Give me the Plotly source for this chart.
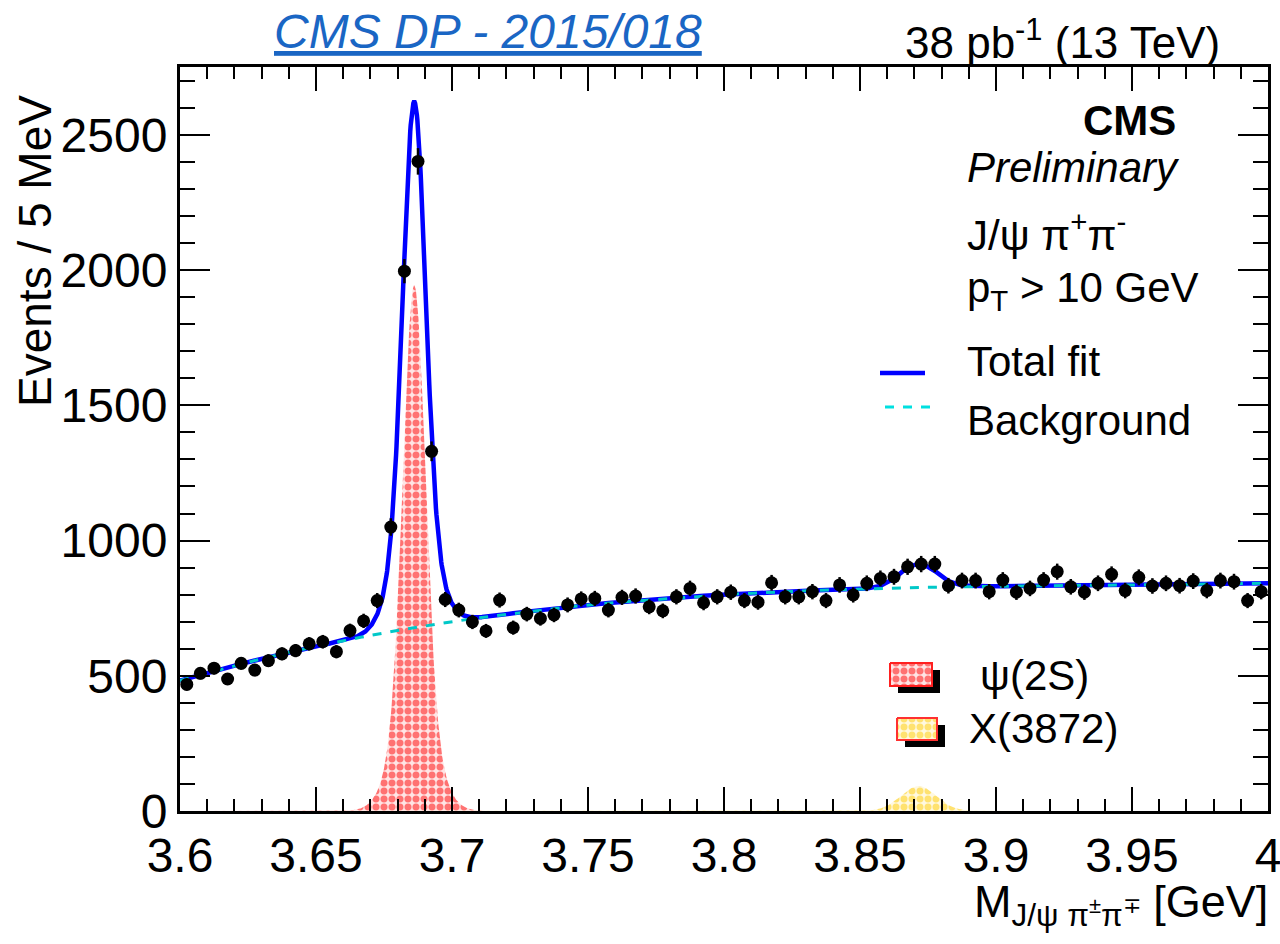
import numpy as np
import plotly.graph_objects as go

# ---- histogram: J/psi pi+ pi- invariant mass, 5 MeV bins ----
M_LO, M_HI, BIN_W = 3.6, 4.0, 0.005
bin_centers = M_LO + BIN_W * (np.arange(80) + 0.5)
events = [
    468, 509, 528, 488, 546, 521, 556, 581, 593, 618,
    626, 589, 667, 703, 778, 1050, 1996, 2402, 1330, 782,
    743, 699, 666, 780, 678, 728, 712, 725, 762, 784,
    786, 743, 790, 795, 755, 740, 792, 823, 770, 792,
    809, 778, 772, 844, 792, 792, 811, 778, 836, 799,
    842, 860, 866, 903, 913, 913, 833, 852, 852, 811,
    854, 809, 823, 854, 885, 829, 809, 842, 875, 815,
    864, 832, 842, 833, 850, 815, 852, 848, 778, 811,
]
events_err = np.sqrt(events)

# ---- fit model parameters ----
bkg_coef = [482.0, 2933.3, -8350.0, 8167.0]          # cubic in (m - 3.6)
psi_mean, psi_height = 3.6861, 1944.0
psi_sigma_core, psi_sigma_tail, psi_core_frac = 0.0040, 0.0072, 0.79
x_mean, x_height, x_sigma = 3.8715, 92.0, 0.0065

# ---- axis labels ----
y_title = "Events / 5 MeV"
x_title = "M<sub>J/ψ π<sup>±</sup>π<sup>∓</sup></sub> [GeV]"


def background(m):
    t = m - M_LO
    return sum(c * t ** k for k, c in enumerate(bkg_coef))


def psi2s(m):
    d = m - psi_mean
    return psi_height * (psi_core_frac * np.exp(-0.5 * (d / psi_sigma_core) ** 2)
                         + (1 - psi_core_frac) * np.exp(-0.5 * (d / psi_sigma_tail) ** 2))


def x3872(m):
    return x_height * np.exp(-0.5 * ((m - x_mean) / x_sigma) ** 2)


m_fine = np.linspace(M_LO, M_HI, 2001)
# total-fit curve: coarse sampling at bin centres, dense around the psi(2S)
m_curve = np.unique(np.concatenate([[M_LO, M_HI], bin_centers,
                                    np.linspace(3.655, 3.72, 400)]))
total_fit = background(m_curve) + psi2s(m_curve) + x3872(m_curve)

FONT = "Liberation Sans, Arial, Helvetica, sans-serif"
W, H = 1280, 944
L, R, T, B = 180, 1268, 67, 811          # plot frame in pixels


def px(x):
    return (x - L) / (R - L)


def py(y):
    return (B - y) / (B - T)


RED_PATTERN = dict(shape=".", fgcolor="#ff0000", bgcolor="#ffe4e4", size=8, solidity=0.6)
YEL_PATTERN = dict(shape=".", fgcolor="#ffcc00", bgcolor="#fff8e0", size=8, solidity=0.6)

fig = go.Figure()

# signal components
fig.add_trace(go.Scatter(
    x=m_fine, y=psi2s(m_fine), mode="lines", fill="tozeroy",
    line=dict(width=0, color="rgba(255,0,0,0)"),
    fillcolor="rgba(255,255,255,0)", fillpattern=RED_PATTERN,
    hoverinfo="skip", showlegend=False))
fig.add_trace(go.Scatter(
    x=m_fine, y=x3872(m_fine), mode="lines", fill="tozeroy",
    line=dict(width=0, color="rgba(255,200,0,0)"),
    fillcolor="rgba(255,255,255,0)", fillpattern=YEL_PATTERN,
    hoverinfo="skip", showlegend=False))

# total fit and background
fig.add_trace(go.Scatter(x=m_curve, y=total_fit, mode="lines",
                         line=dict(color="#0000ff", width=4.5),
                         showlegend=False))
fig.add_trace(go.Scatter(x=m_fine, y=background(m_fine), mode="lines",
                         line=dict(color="#00c8c8", width=3, dash="dash"),
                         showlegend=False))

# data
fig.add_trace(go.Scatter(
    x=bin_centers, y=events, mode="markers",
    marker=dict(color="black", size=13, symbol="circle"),
    error_y=dict(type="data", array=events_err, color="black",
                 thickness=2.5, width=0),
    error_x=dict(type="constant", value=0.0019, color="black",
                 thickness=2.5, width=0),
    showlegend=False))


# legend keys drawn on a pixel-space overlay axis
def box(x0, y0, x1, y1):
    return [x0, x1, x1, x0, x0], [y0, y0, y1, y1, y0]


legend_boxes = [
    (890, 663, 932, 686, RED_PATTERN, "#ff2020"),
    (897, 718, 937, 740, YEL_PATTERN, "#ff3030"),
]
for x0, y0, x1, y1, pattern, edge in legend_boxes:
    sx, sy = box(x0 + 8, y0 + 7, x1 + 8, y1 + 7)
    fig.add_trace(go.Scatter(x=sx, y=sy, xaxis="x2", yaxis="y2", mode="lines",
                             fill="toself", fillcolor="black",
                             line=dict(width=0, color="black"),
                             hoverinfo="skip", showlegend=False))
    bx, by = box(x0, y0, x1, y1)
    fig.add_trace(go.Scatter(x=bx, y=by, xaxis="x2", yaxis="y2", mode="lines",
                             fill="toself", fillcolor="white", fillpattern=pattern,
                             line=dict(width=2, color=edge),
                             hoverinfo="skip", showlegend=False))
fig.add_trace(go.Scatter(x=[880, 925], y=[373, 373], xaxis="x2", yaxis="y2",
                         mode="lines", line=dict(color="#0000ff", width=4.5),
                         hoverinfo="skip", showlegend=False))
fig.add_trace(go.Scatter(x=[885, 932], y=[407, 407], xaxis="x2", yaxis="y2",
                         mode="lines", line=dict(color="#00e0e0", width=3, dash="dash"),
                         hoverinfo="skip", showlegend=False))

axis_common = dict(showline=True, linecolor="black", linewidth=3, mirror="allticks",
                   ticks="inside", tickcolor="black", showgrid=False, zeroline=False,
                   automargin=False, ticklabeloverflow="allow",
                   tickfont=dict(family=FONT, size=48, color="black"))

fig.update_layout(
    width=W, height=H, autosize=False,
    margin=dict(l=L, r=W - R, t=T, b=H - B, autoexpand=False),
    paper_bgcolor="white", plot_bgcolor="white",
    xaxis=dict(range=[M_LO, M_HI], dtick=0.05, tick0=3.6, ticklen=24, tickwidth=2,
               tickformat="~g",
               minor=dict(dtick=0.01, tick0=3.6, ticks="inside", ticklen=12,
                          tickwidth=2, tickcolor="black"),
               **axis_common),
    yaxis=dict(range=[0, 2751], dtick=500, tick0=0, ticklen=30, tickwidth=2,
               minor=dict(dtick=100, ticks="inside", ticklen=15,
                          tickwidth=2, tickcolor="black"),
               **axis_common),
    xaxis2=dict(overlaying="x", range=[L, R], visible=False, automargin=False),
    yaxis2=dict(overlaying="y", range=[B, T], visible=False, automargin=False),
)

txt = dict(family=FONT, color="black")
annotations = [
    dict(x=px(488), y=py(31), text="<i><u>CMS DP - 2015/018</u></i>",
         font=dict(family=FONT, size=48, color="#1a66c4"), xanchor="center"),
    dict(x=px(1222), y=py(40), text="38 pb<sup>-1</sup> (13 TeV)",
         font=dict(size=44, **txt), xanchor="right"),
    dict(x=px(1178), y=py(120), text="<b>CMS</b>", font=dict(size=42, **txt),
         xanchor="right"),
    dict(x=px(965), y=py(167), text="<i>Preliminary</i>", font=dict(size=42, **txt),
         xanchor="left"),
    dict(x=px(965), y=py(232), text="J/ψ π<sup>+</sup>π<sup>-</sup>",
         font=dict(size=42, **txt), xanchor="left"),
    dict(x=px(965), y=py(290), text="p<sub>T</sub> > 10 GeV",
         font=dict(size=42, **txt), xanchor="left"),
    dict(x=px(965), y=py(361), text="Total fit", font=dict(size=42, **txt),
         xanchor="left"),
    dict(x=px(965), y=py(420), text="Background", font=dict(size=42, **txt),
         xanchor="left"),
    dict(x=px(978), y=py(675), text="ψ(2S)", font=dict(size=42, **txt),
         xanchor="left"),
    dict(x=px(967), y=py(728), text="X(3872)", font=dict(size=42, **txt),
         xanchor="left"),
    dict(x=px(35), y=py(251), text=y_title, textangle=-90,
         font=dict(size=46, **txt), xanchor="center"),
    dict(x=px(1270), y=py(904), text=x_title, font=dict(size=45, **txt),
         xanchor="right"),
]
for a in annotations:
    a.update(xref="paper", yref="paper", showarrow=False, yanchor="middle")
fig.update_layout(annotations=annotations)

fig.write_html("out.html", config={"responsive": False})
